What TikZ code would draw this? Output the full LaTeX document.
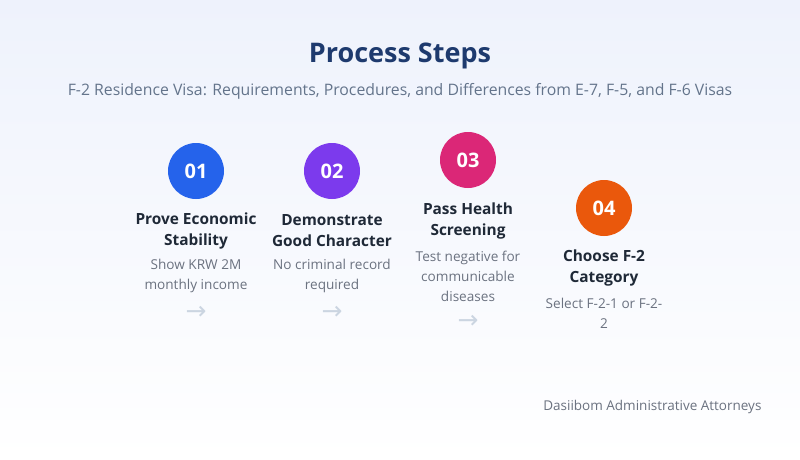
\documentclass[tikz,border=0pt]{standalone}
\usepackage{fontspec}
\setmainfont{Open Sans}
\newfontfamily\arrowfont{DejaVu Sans}
\usepackage{xcolor}
\definecolor{bgtop}{HTML}{EEF2FC}
\definecolor{titlecol}{HTML}{1E3A6E}
\definecolor{subcol}{HTML}{64748B}
\definecolor{headcol}{HTML}{1F2937}
\definecolor{desccol}{HTML}{6B7280}
\definecolor{arrowcol}{HTML}{CBD5E1}
\definecolor{stepa}{HTML}{2563EB}
\definecolor{stepb}{HTML}{7C3AED}
\definecolor{stepc}{HTML}{DB2777}
\definecolor{stepd}{HTML}{EA580C}

\begin{document}
\begin{tikzpicture}[x=1pt,y=-1pt,
    num/.style={circle,minimum size=56pt,inner sep=0pt,text=white,font=\fontsize{20}{22}\selectfont\bfseries},
    head/.style={align=center,text=headcol,font=\fontsize{15.4}{21}\selectfont\bfseries},
    desc/.style={align=center,text=desccol,font=\fontsize{13.6}{20}\selectfont},
    arr/.style={text=arrowcol,font=\arrowfont\fontsize{25}{25}\selectfont}]
            % Background
            \shade[top color=bgtop,bottom color=white] (0,0) rectangle (800,460);
            \useasboundingbox (0,0) rectangle (800,460);

            % Title
            \node[text=titlecol,font=\fontsize{27}{30}\selectfont\bfseries] (title) at (400,56) {Process Steps};
            \node[text=subcol,font=\fontsize{15.8}{18}\selectfont] (subtitle) at (400,91) {F-2 Residence Visa: Requirements, Procedures, and Differences from E-7, F-5, and F-6 Visas};

            % Nodes
            \node[num,fill=stepa] (n1) at (196,171) {01};
            \node[num,fill=stepb] (n2) at (332,171) {02};
            \node[num,fill=stepc] (n3) at (468,160) {03};
            \node[num,fill=stepd] (n4) at (604,208) {04};

            \node[head] (h1) at (196,231) {Prove Economic\\Stability};
            \node[head] (h2) at (332,231) {Demonstrate\\Good Character};
            \node[head] (h3) at (468,221) {Pass Health\\Screening};
            \node[head] (h4) at (604,268) {Choose F-2\\Category};

            \node[desc] (d1) at (196,276) {Show KRW 2M\\monthly income};
            \node[desc] (d2) at (332,276) {No criminal record\\required};
            \node[desc] (d3) at (468,276) {Test negative for\\communicable\\diseases};
            \node[desc] (d4) at (604,313) {Select F-2-1 or F-2-\\2};

            % Arrows
            \node[arr] (a1) at (196,313) {→};
            \node[arr] (a2) at (332,313) {→};
            \node[arr] (a3) at (468,322) {→};

            % Footer
            \node[text=desccol,anchor=east,font=\fontsize{13.5}{16}\selectfont] (footer) at (765,407) {Dasiibom Administrative Attorneys};
        \end{tikzpicture}
\end{document}
